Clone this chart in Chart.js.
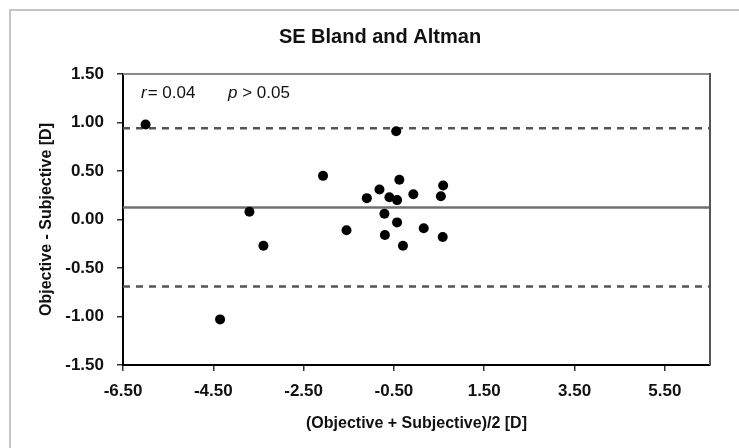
<!DOCTYPE html>
<html>
<head>
<meta charset="utf-8">
<script src="https://cdn.jsdelivr.net/npm/chart.js@4.4.1/dist/chart.umd.min.js"></script>
<style>
    body { margin: 0; background: #fff; }
    canvas { display: block; }
</style>
</head>
<body>
<canvas id="blandAltman" width="739" height="448"></canvas>
<script>
// mean of the two methods, (Objective + Subjective)/2 [D]
const means = [-6.00, -4.35, -3.70, -3.39, -2.07, -1.55, -1.10, -0.82, -0.71, -0.70, -0.60,
    -0.45, -0.43, -0.43, -0.38, -0.30, -0.07, 0.16, 0.54, 0.59, 0.58];
// difference, Objective - Subjective [D]
const diffs = [0.98, -1.03, 0.08, -0.27, 0.45, -0.11, 0.22, 0.31, 0.06, -0.16, 0.23,
    0.91, 0.20, -0.03, 0.41, -0.27, 0.26, -0.09, 0.24, 0.35, -0.18];

const meanDiff = 0.125;
const upperLoA = 0.94;
const lowerLoA = -0.69;

const xRange = [-6.5, 6.5];
const yRange = [-1.5, 1.5];
const xTicks = [-6.5, -4.5, -2.5, -0.5, 1.5, 3.5, 5.5];
const yTicks = [-1.5, -1.0, -0.5, 0.0, 0.5, 1.0, 1.5];

const FONT = '"Liberation Sans", Arial, sans-serif';

function hLine(y) {
    return [{ x: xRange[0], y: y }, { x: xRange[1], y: y }];
}

const chartDecor = {
    id: 'chartDecor',
    beforeDraw(chart) {
        const ctx = chart.ctx;
        ctx.save();
        ctx.fillStyle = '#fff';
        ctx.fillRect(0, 0, chart.width, chart.height);
        // outer chart border (cut off on right and bottom)
        ctx.strokeStyle = '#c4c4c4';
        ctx.lineWidth = 2;
        ctx.strokeRect(10, 10, 800, 500);
        ctx.restore();
    },
    afterDraw(chart) {
        const ctx = chart.ctx;
        const a = chart.chartArea;
        ctx.save();
        ctx.lineWidth = 2;
        ctx.strokeStyle = '#8a8a8a';
        ctx.beginPath();
        ctx.moveTo(a.left, a.top);
        ctx.lineTo(a.right, a.top);
        ctx.stroke();
        ctx.strokeStyle = '#555';
        ctx.beginPath();
        ctx.moveTo(a.right, a.top - 1);
        ctx.lineTo(a.right, a.bottom);
        ctx.stroke();

        // title
        ctx.fillStyle = '#111';
        ctx.textBaseline = 'middle';
        ctx.textAlign = 'center';
        ctx.font = 'bold 20px ' + FONT;
        ctx.fillText('SE Bland and Altman', 380, 37);

        // r and p annotation
        ctx.textAlign = 'left';
        const y = 93;
        ctx.font = 'italic 17px ' + FONT;
        ctx.fillText('r', 141, y);
        let w = ctx.measureText('r').width;
        ctx.font = '17px ' + FONT;
        ctx.fillText('= 0.04', 141 + w + 1, y);
        ctx.font = 'italic 17px ' + FONT;
        ctx.fillText('p', 228, y);
        w = ctx.measureText('p').width;
        ctx.font = '17px ' + FONT;
        ctx.fillText(' > 0.05', 228 + w, y);
        ctx.restore();
    }
};

const ctx = document.getElementById('blandAltman').getContext('2d');
new Chart(ctx, {
    type: 'scatter',
    data: {
        datasets: [
            {
                label: 'data',
                data: means.map((m, i) => ({ x: m, y: diffs[i] })),
                backgroundColor: '#000',
                borderWidth: 0,
                pointRadius: 5,
                order: 0
            },
            {
                label: 'mean',
                data: hLine(meanDiff),
                showLine: true,
                borderColor: '#707070',
                borderWidth: 2.5,
                pointRadius: 0,
                order: 1
            },
            {
                label: 'upper',
                data: hLine(upperLoA),
                showLine: true,
                borderColor: '#555',
                borderWidth: 2.5,
                borderDash: [7, 6],
                pointRadius: 0,
                order: 1
            },
            {
                label: 'lower',
                data: hLine(lowerLoA),
                showLine: true,
                borderColor: '#555',
                borderWidth: 2.5,
                borderDash: [7, 6],
                pointRadius: 0,
                order: 1
            }
        ]
    },
    options: {
        responsive: false,
        animation: false,
        layout: {
            padding: { left: 10, right: 29, top: 74, bottom: 0 }
        },
        plugins: {
            legend: { display: false },
            tooltip: { enabled: false },
            title: { display: false }
        },
        scales: {
            x: {
                type: 'linear',
                min: xRange[0],
                max: xRange[1],
                afterBuildTicks: (scale) => { scale.ticks = xTicks.map(v => ({ value: v })); },
                afterFit: (scale) => { scale.height = 83; },
                ticks: {
                    color: '#111',
                    padding: 10,
                    font: { family: FONT, size: 17, weight: 'bold' },
                    callback: (v) => v.toFixed(2)
                },
                grid: {
                    drawOnChartArea: false,
                    drawTicks: true,
                    tickLength: 6,
                    color: '#333',
                    lineWidth: 1.5
                },
                border: { color: '#000', width: 2 },
                title: {
                    display: true,
                    text: '(Objective + Subjective)/2 [D]',
                    color: '#111',
                    font: { family: FONT, size: 16, weight: 'bold' },
                    padding: { top: 0, bottom: 15 }
                }
            },
            y: {
                type: 'linear',
                min: yRange[0],
                max: yRange[1],
                afterBuildTicks: (scale) => { scale.ticks = yTicks.map(v => ({ value: v })); },
                afterFit: (scale) => { scale.width = 113; },
                ticks: {
                    color: '#111',
                    padding: 13,
                    font: { family: FONT, size: 17, weight: 'bold' },
                    callback: (v) => v.toFixed(2)
                },
                grid: {
                    drawOnChartArea: false,
                    drawTicks: true,
                    tickLength: 6,
                    color: '#333',
                    lineWidth: 1.5
                },
                border: { color: '#000', width: 2 },
                title: {
                    display: true,
                    text: 'Objective - Subjective [D]',
                    color: '#111',
                    font: { family: FONT, size: 16, weight: 'bold' },
                    padding: { top: 27, bottom: 0 }
                }
            }
        }
    },
    plugins: [chartDecor]
});
</script>
</body>
</html>
